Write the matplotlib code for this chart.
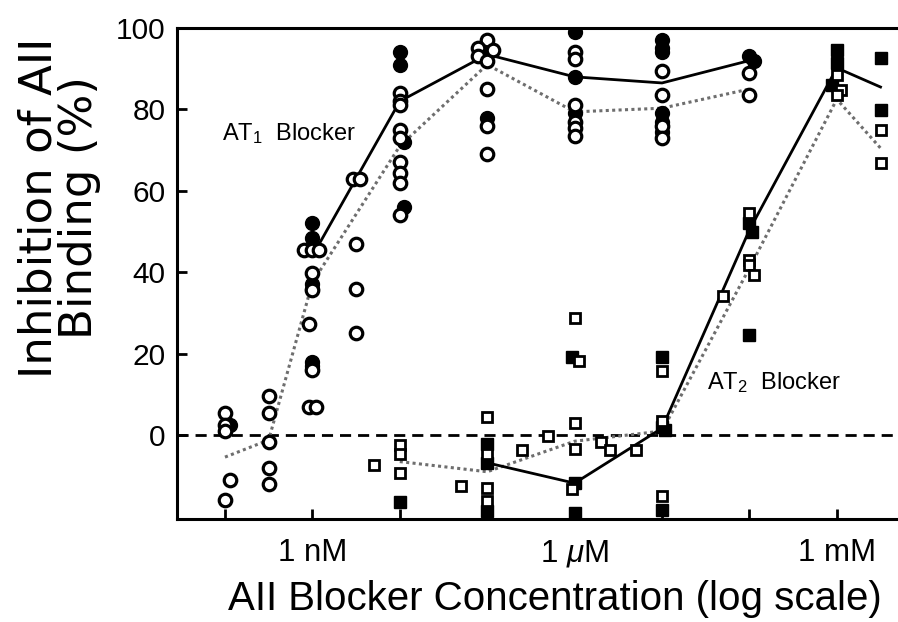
import numpy as np
import matplotlib
matplotlib.use("Agg")
import matplotlib.pyplot as plt

plt.rcParams['font.family'] = ['Liberation Sans', 'DejaVu Sans']
plt.rcParams['mathtext.fontset'] = 'custom'
plt.rcParams['mathtext.rm'] = 'Liberation Sans'
plt.rcParams['mathtext.it'] = 'Liberation Sans:italic'

# concentrations are given as log10(molar)
# AT1 blocker, open circles
at1_open_logx = [-10, -10, -10, -10, -9.94,
                 -9.5, -9.5, -9.5, -9.5, -9.5,
                 -9.1, -9.0, -8.92, -9.0, -9.0, -9.04, -9.0, -9.04, -8.96,
                 -8.53, -8.45, -8.5, -8.5, -8.5,
                 -8, -8, -8, -8, -8, -8, -8, -8, -8,
                 -7, -7.1, -7.1, -7, -6.93, -7, -7, -7,
                 -6, -6, -6, -6, -6, -6,
                 -5, -5, -5, -5,
                 -4, -4]
at1_open_y = [5.5, 2.5, 1, -16, -11,
              9.6, 5.4, -1.7, -8, -12,
              45.5, 45.5, 45.5, 39.8, 35.6, 27.3, 16, 7, 7,
              63, 63, 47, 36, 25,
              84, 82, 81, 75, 73, 67, 64.5, 62, 54,
              97, 95, 93, 92, 94.5, 85, 76, 69,
              94, 92.5, 81, 77, 75.5, 73.5,
              89.5, 83.5, 76, 73,
              89, 83.5]

# AT1 blocker, filled circles
at1_fill_logx = [-9.94,
                 -9, -9, -9, -9, -9, -9,
                 -8, -8, -7.95, -7.95,
                 -7, -7.03, -6.95, -7,
                 -6, -6, -6,
                 -5, -5, -5, -5, -5, -5,
                 -4, -3.95]
at1_fill_y = [2.5,
              52, 48.5, 37, 36, 18, 17,
              94, 91, 72, 56,
              95, 94, 94.5, 78,
              99, 88, 79,
              97, 95, 94, 79, 77, 74.5,
              93, 92]

# AT2 blocker, open squares
at2_open_logx = [-8.3,
                 -8, -8, -8,
                 -7.3,
                 -7, -7, -7, -7,
                 -6.6, -6.3,
                 -6, -5.95, -6, -6, -6.03,
                 -5.7, -5.6, -5.3,
                 -5, -5, -5,
                 -4.3,
                 -4, -4, -4, -3.95,
                 -3, -2.95, -3,
                 -2.5, -2.5]
at2_open_y = [-7.4,
              -2.5, -4.7, -9.3,
              -12.5,
              4.4, -4.7, -13, -16.2,
              -3.7, -0.2,
              28.7, 18.2, 2.9, -3.4, -13.3,
              -1.7, -3.7, -3.7,
              15.8, 3.4, -15,
              34.2,
              54.5, 43, 41.8, 39.3,
              88.5, 84.8, 83.5,
              75, 66.8]

# AT2 blocker, filled squares
at2_fill_logx = [-8,
                 -7, -7, -7,
                 -6.03, -6, -6,
                 -5, -5, -4.97, -5,
                 -4, -3.97, -4,
                 -3, -3, -3.05,
                 -2.5, -2.5]
at2_fill_y = [-16.5,
              -2.2, -6.8, -18.6,
              19.2, -11.8, -19.2,
              19.2, 2, 1.2, -18.4,
              52, 50, 24.6,
              94.6, 91.4, 86,
              92.6, 79.9]

# mean lines
at1_solid_logx = [-9, -8.5, -8, -7, -6, -5, -4]
at1_solid_y = [44, 63, 82, 93.5, 88, 86.5, 92]
at1_dot_logx = [-10, -9.5, -9, -8, -7, -6, -5, -4]
at1_dot_y = [-5.4, -1.2, 37.5, 71, 91, 79.4, 80.3, 85]
at2_solid_logx = [-7, -6, -5, -4, -3, -2.5]
at2_solid_y = [-6.8, -11.8, 1.7, 50.4, 90.2, 85.5]
at2_dot_logx = [-8, -7, -6, -5, -4, -3, -2.5]
at2_dot_y = [-6.5, -9, -1.5, 1, 41, 82.5, 70.5]

tick_logx = [-9, -6, -3]
tick_labels = ['1 nM', '1 $\\mu$M', '1 mM']

def conc(v):
    return 10.0 ** np.array(v)

fig = plt.figure(figsize=(8.98, 6.22), dpi=100)
ax = fig.add_axes([0.197, 0.1656, 0.803, 0.7894])

grey = '#6e6e6e'
dots = (0, (1, 1.1))
ax.plot(conc(at1_dot_logx), at1_dot_y, color=grey, lw=2.2, ls=dots, zorder=2)
ax.plot(conc(at2_dot_logx), at2_dot_y, color=grey, lw=2.2, ls=dots, zorder=2)
ax.plot(conc(at1_solid_logx), at1_solid_y, color='black', lw=2, zorder=2)
ax.plot(conc(at2_solid_logx), at2_solid_y, color='black', lw=2, zorder=2)

ax.axhline(0, color='black', lw=2, ls=(0, (4, 2.5)), zorder=1)

ax.plot(conc(at1_fill_logx), at1_fill_y, 'o', color='black', ms=10, zorder=3)
ax.plot(conc(at1_open_logx), at1_open_y, 'o', mfc='white', mec='black',
        ms=9, mew=2.3, zorder=4)
ax.plot(conc(at2_fill_logx), at2_fill_y, 's', color='black', ms=8.5, zorder=3)
ax.plot(conc(at2_open_logx), at2_open_y, 's', mfc='white', mec='black',
        ms=7.5, mew=2, zorder=4)

ax.text(10 ** -10.03, 74, 'AT$_1$  Blocker', fontsize=17, va='center')
ax.text(10 ** -4.48, 12.8, 'AT$_2$  Blocker', fontsize=17, va='center')

ax.set_xscale('log')
ax.set_xlim(10 ** -10.55, 10 ** -2.30)
ax.set_ylim(-20.6, 100)
ax.set_yticks([0, 20, 40, 60, 80, 100])
ax.set_xticks(conc(tick_logx))
ax.set_xticklabels(tick_labels)
ax.xaxis.set_minor_locator(matplotlib.ticker.FixedLocator(conc(np.arange(-10, -2))))
ax.xaxis.set_minor_formatter(matplotlib.ticker.NullFormatter())
ax.tick_params(axis='both', which='both', direction='in', length=7, width=2,
               labelsize=21.5)
ax.tick_params(axis='x', pad=14, labelsize=22.5)
ax.tick_params(axis='y', pad=8)

for side in ['left', 'bottom', 'top']:
    ax.spines[side].set_linewidth(2.2)
ax.spines['right'].set_visible(False)

fig.text(0.066, 0.666, 'Inhibition of AII\nBinding (%)', rotation=90,
         ha='center', va='center', multialignment='center',
         fontsize=32.5, family=['DejaVu Sans'], linespacing=0.95)
fig.text(0.618, 0.02, 'AII Blocker Concentration (log scale)',
         ha='center', va='baseline', fontsize=29)

fig.savefig('out.png', dpi=100)
